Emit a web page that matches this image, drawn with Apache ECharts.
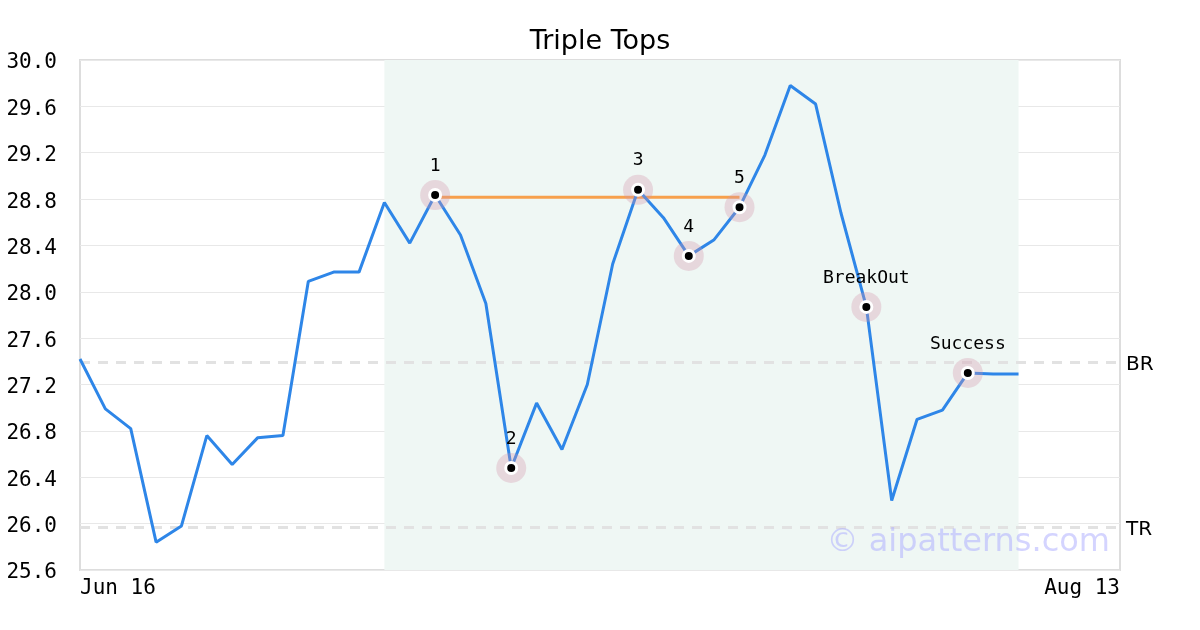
<!DOCTYPE html>
<html>
<head>
<meta charset="utf-8">
<script src="https://cdn.jsdelivr.net/npm/echarts@6/dist/echarts.min.js"></script>
<style>html,body{margin:0;padding:0;background:#fff;}#c{width:1200px;height:630px;}</style>
</head>
<body>
<div id="c"></div>
<script>
var dates = ["Jun 16","Jun 17","Jun 18","Jun 21","Jun 22","Jun 23","Jun 24","Jun 25","Jun 28","Jun 29","Jun 30",
  "Jul 1","Jul 2","Jul 6","Jul 7","Jul 8","Jul 9","Jul 12","Jul 13","Jul 14","Jul 15","Jul 16",
  "Jul 19","Jul 20","Jul 21","Jul 22","Jul 23","Jul 26","Jul 27","Jul 28","Jul 29","Jul 30",
  "Aug 2","Aug 3","Aug 4","Aug 5","Aug 6","Aug 9","Aug 10","Aug 11","Aug 12","Aug 13"];
var prices = [27.42,26.99,26.82,25.84,25.98,26.76,26.51,26.74,26.76,28.09,28.17,28.17,28.77,28.42,28.835,28.49,27.90,
  26.48,27.04,26.64,27.20,28.24,28.88,28.64,28.31,28.45,28.73,29.18,29.78,29.62,28.68,27.87,26.20,26.90,26.98,27.30,27.29,27.29];
var markerIdx = [14,17,22,24,26,31,35];
var markerLabels = ["1","2","3","4","5","BreakOut","Success"];
var patternStart = 12, patternEnd = 37;
var necklineStart = 14, necklineEnd = 26, necklineValue = 28.815;
var levelBR = 27.39, levelTR = 25.965;
var yTicks = {min:25.6, max:30.0, interval:0.4};

var markerData = markerIdx.map(function(i, k){ return {value:[dates[i], prices[i]], name: markerLabels[k]}; });
var mono = "'DejaVu Sans Mono', monospace";
var sans = "'DejaVu Sans', sans-serif";

var chart = echarts.init(document.getElementById('c'));
chart.setOption({
  animation:false,
  backgroundColor:'#fff',
  title:{text:'Triple Tops', left:'center', top:23, textStyle:{fontFamily:sans, fontSize:27, fontWeight:'normal', color:'#000'}},
  grid:{left:80, right:80, top:60, bottom:60, show:true, borderColor:'#dddddd', borderWidth:2, backgroundColor:'transparent'},
  xAxis:{type:'category', data:dates, boundaryGap:false,
    axisLine:{show:false}, axisTick:{show:false}, splitLine:{show:false},
    axisLabel:{fontFamily:mono, fontSize:21, color:'#000', margin:8, alignMinLabel:'left', alignMaxLabel:'right',
      interval:function(i){ return i===0 || i===dates.length-1; }}},
  yAxis:{type:'value', min:yTicks.min, max:yTicks.max, interval:yTicks.interval,
    axisLine:{show:false}, axisTick:{show:false},
    splitLine:{lineStyle:{color:'#e8e8e8', width:1}},
    axisLabel:{fontFamily:mono, fontSize:21, color:'#000', margin:23,
      rich:{v:{fontFamily:mono, fontSize:21, color:'#000', padding:[6,0,0,0]}},
      formatter:function(v){return '{v|' + v.toFixed(1) + '}';}}},
  graphic:[{type:'text', right:90, top:527, z:100, style:{text:'© aipatterns.com', font:'32px '+sans, fill:'rgba(170,170,255,0.5)'}}],
  series:[
    {type:'line', data:prices, symbol:'none', z:3,
      lineStyle:{color:'#2e86e8', width:3},
      markArea:{silent:true, itemStyle:{color:'#eff7f4'}, data:[[{xAxis:dates[patternStart]},{xAxis:dates[patternEnd]}]]},
      markLine:{silent:true, symbol:'none', z:1,
        lineStyle:{color:'#e2e2e2', width:3, type:[10,8]},
        label:{position:'end', fontFamily:sans, fontSize:20, color:'#000', distance:6, offset:[0,2], formatter:'{b}'},
        data:[
          [{name:'BR', coord:[dates[0], levelBR]},{coord:[dates[dates.length-1], levelBR]}],
          [{name:'TR', coord:[dates[0], levelTR]},{coord:[dates[dates.length-1], levelTR]}]
        ]}
    },
    {type:'line', data:dates.map(function(d,i){ return (i>=necklineStart && i<=necklineEnd) ? necklineValue : null; }),
      symbol:'none', z:2, lineStyle:{color:'#f7a04c', width:3}},
    {type:'scatter', data:markerData, symbolSize:30, z:4,
      itemStyle:{color:'rgba(210,150,170,0.32)', opacity:1},
      label:{show:true, position:'top', distance:5, fontFamily:mono, fontSize:18, color:'#000', formatter:'{b}'}},
    {type:'scatter', data:markerData, symbolSize:11, z:5,
      itemStyle:{color:'#000', borderColor:'#fff', borderWidth:3, opacity:1}}
  ]
});
</script>
</body>
</html>
